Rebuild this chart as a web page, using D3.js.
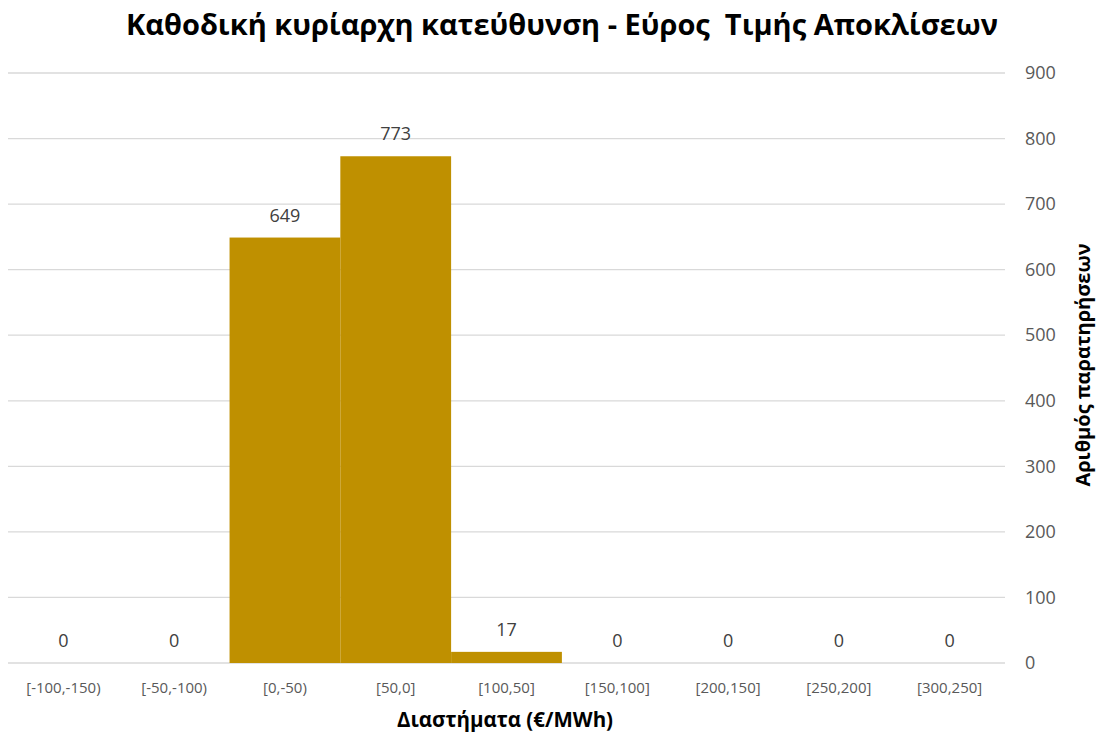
<!DOCTYPE html>
<html>
<head>
<meta charset="utf-8">
<title>Καθοδική κυρίαρχη κατεύθυνση</title>
<script src="https://cdn.jsdelivr.net/npm/d3@7"></script>
<style>
  body { margin: 0; background: #fff; }
  svg { display: block; font-family: "Open Sans", "Noto Sans", sans-serif; }
</style>
</head>
<body>
<svg id="chart" width="1096" height="732"></svg>
<script>
var categories = ["[-100,-150)", "[-50,-100)", "[0,-50)", "[50,0]", "[100,50]",
                  "[150,100]", "[200,150]", "[250,200]", "[300,250]"];
var counts = [0, 0, 649, 773, 17, 0, 0, 0, 0];
var yTicks = [0, 100, 200, 300, 400, 500, 600, 700, 800, 900];

var svg = d3.select("#chart"),
    margin = { top: 73, right: 91, bottom: 69, left: 8 },
    width = 1096 - margin.left - margin.right,
    height = 732 - margin.top - margin.bottom;

var g = svg.append("g")
    .attr("transform", "translate(" + margin.left + "," + margin.top + ")");

var x = d3.scaleBand().domain(categories).range([0, width]).padding(0);
var y = d3.scaleLinear().domain([0, 900]).range([height, 0]);

// gridlines
g.selectAll(".grid")
  .data(yTicks)
  .enter().append("line")
    .attr("x1", 0).attr("x2", width)
    .attr("y1", function (d) { return y(d); })
    .attr("y2", function (d) { return y(d); })
    .attr("stroke", "#d9d9d9")
    .attr("stroke-width", 1.3);

// bars
g.selectAll(".bar")
  .data(counts)
  .enter().append("rect")
    .attr("x", function (d, i) { return x(categories[i]); })
    .attr("y", function (d) { return y(d); })
    .attr("width", x.bandwidth())
    .attr("height", function (d) { return height - y(d); })
    .attr("fill", "#bf9000");

// value labels
g.selectAll(".val")
  .data(counts)
  .enter().append("text")
    .attr("x", function (d, i) { return x(categories[i]) + x.bandwidth() / 2; })
    .attr("y", function (d) { return y(d) - 16; })
    .attr("text-anchor", "middle")
    .attr("font-size", 18)
    .attr("fill", "#404040")
    .text(function (d) { return d; });

// y axis on the right
var yAxis = g.append("g")
    .attr("transform", "translate(" + width + ",0)")
    .call(d3.axisRight(y).tickValues(yTicks).tickSize(0).tickPadding(20));
yAxis.select(".domain").remove();
yAxis.selectAll("text")
    .attr("font-size", 18)
    .attr("fill", "#595959")
    .attr("font-family", "Open Sans, sans-serif");

// x axis
var xAxis = g.append("g")
    .attr("transform", "translate(0," + height + ")")
    .call(d3.axisBottom(x).tickSize(0).tickPadding(19));
xAxis.select(".domain").remove();
xAxis.selectAll("text")
    .attr("font-size", 15)
    .attr("fill", "#595959")
    .attr("font-family", "Open Sans, sans-serif");

// titles
svg.append("text")
    .attr("x", 562).attr("y", 35)
    .attr("text-anchor", "middle")
    .attr("font-size", 29)
    .attr("font-weight", "bold")
    .attr("fill", "#000")
    .style("white-space", "pre")
    .text("Καθοδική κυρίαρχη κατεύθυνση - Εύρος  Τιμής Αποκλίσεων");

svg.append("text")
    .attr("x", 505).attr("y", 727)
    .attr("text-anchor", "middle")
    .attr("font-size", 20.5)
    .attr("font-weight", "bold")
    .attr("fill", "#000")
    .text("Διαστήματα (€/MWh)");

svg.append("text")
    .attr("transform", "translate(1090," + (margin.top + height / 2 - 3) + ") rotate(-90)")
    .attr("text-anchor", "middle")
    .attr("font-size", 20)
    .attr("font-weight", "bold")
    .attr("fill", "#000")
    .text("Αριθμός παρατηρήσεων");
</script>
</body>
</html>
